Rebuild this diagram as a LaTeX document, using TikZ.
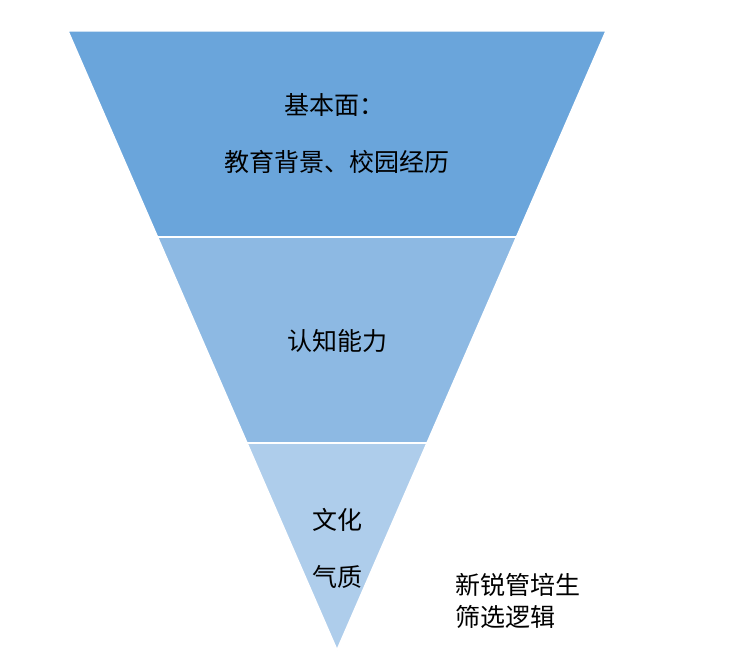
\documentclass[tikz,border=0pt]{standalone}
\usepackage{fontspec}
\setmainfont{Noto Sans CJK SC}
\begin{document}
\begin{tikzpicture}[x=1pt,y=-1pt,
  band/.style={draw=white,line width=1.5pt},
  lbl/.style={font=\fontsize{25}{30}\selectfont,text=black,inner sep=0pt}]
\useasboundingbox (0,0) rectangle (731,668);
\fill[white] (0,0) rectangle (731,668);
\coordinate (tl) at (68,31); \coordinate (tr) at (606,31);
\coordinate (ml) at (157.5,237); \coordinate (mr) at (516.5,237);
\coordinate (bl) at (247,443); \coordinate (br) at (427,443);
\coordinate (ap) at (337,650);
\fill[band,fill={rgb,255:red,106;green,165;blue,219}] (tl)--(tr)--(mr)--(ml)--cycle;
\fill[band,fill={rgb,255:red,141;green,185;blue,227}] (ml)--(mr)--(br)--(bl)--cycle;
\fill[band,fill={rgb,255:red,174;green,205;blue,235}] (bl)--(br)--(ap)--cycle;
\draw[white,line width=1.5pt] (ml)--(mr) (bl)--(br);
\node[lbl,anchor=west] (t1) at (284,105) {基本面：};
\node[lbl] (t2) at (337,162) {教育背景、校园经历};
\node[lbl] (t3) at (337,341) {认知能力};
\node[lbl] (t4) at (337,520) {文化};
\node[lbl] (t5) at (337,577) {气质};
\node[lbl,anchor=west] (t6) at (455,585) {新锐管培生};
\node[lbl,anchor=west] (t7) at (455,617) {筛选逻辑};
\end{tikzpicture}
\end{document}
